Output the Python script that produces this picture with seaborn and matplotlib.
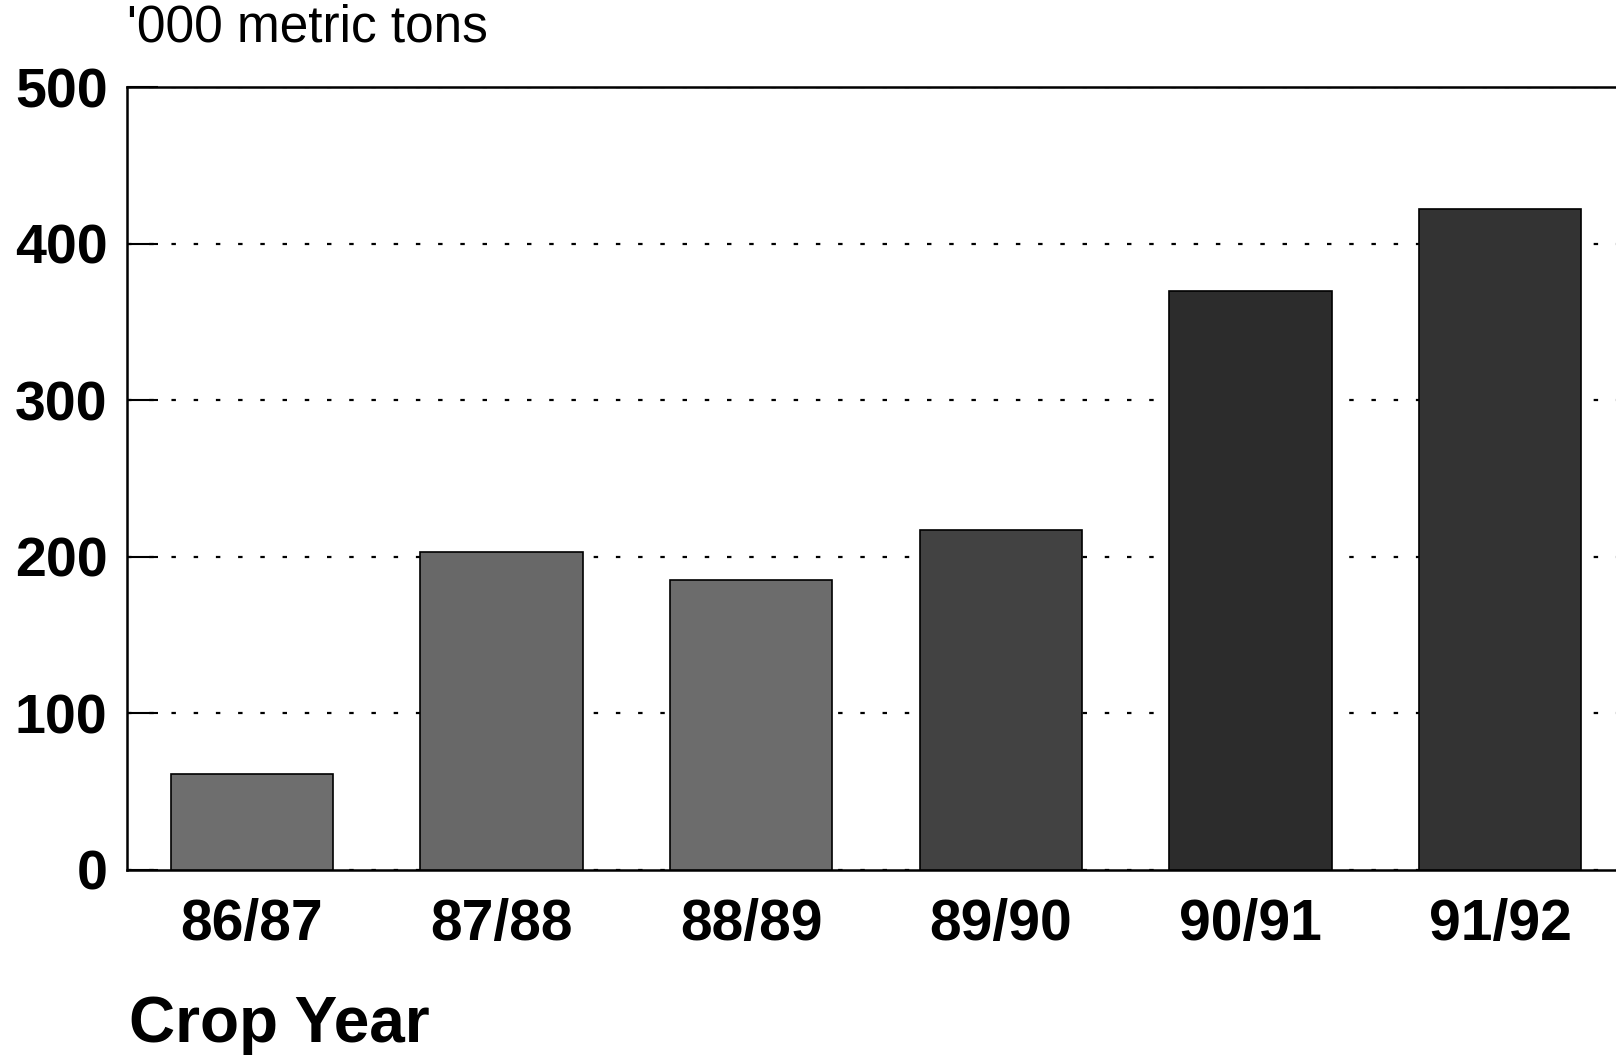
import matplotlib
matplotlib.use("Agg")
import matplotlib.pyplot as plt
import seaborn as sns

# crop years and volume ('000 metric tons)
years = ["86/87", "87/88", "88/89", "89/90", "90/91", "91/92"]
volume = [61, 203, 185, 217, 370, 422]
bar_colors = ["#6e6e6e", "#686868", "#6c6c6c", "#424242", "#2c2c2c", "#333333"]
y_ticks = [0, 100, 200, 300, 400, 500]

sns.set_style("white")
plt.rcParams['font.family'] = ['Liberation Sans', 'DejaVu Sans']
plt.rcParams['text.color'] = 'black'
plt.rcParams['xtick.color'] = 'black'
plt.rcParams['ytick.color'] = 'black'

fig = plt.figure(figsize=(16.16, 10.55), dpi=100)
ax = fig.add_axes([0.0786, 0.1754, 0.927, 0.742])

sns.barplot(x=years, y=volume, hue=years, palette=bar_colors, legend=False,
            width=0.65, saturation=1, edgecolor="black", linewidth=1.2, ax=ax,
            zorder=3)

ax.set_xlim(-0.5, 5.5)
ax.set_ylim(0, 500)
ax.set_yticks(y_ticks)
ax.set_yticklabels([str(t) for t in y_ticks], fontsize=40, fontweight="bold")
ax.set_xticks(range(len(years)))
ax.set_xticklabels(years, fontsize=41, fontweight="bold")

ax.yaxis.grid(True, linestyle=(0, (2, 8)), color="black", linewidth=1.6, zorder=1)
ax.set_axisbelow(True)

ax.tick_params(axis="y", direction="in", length=22, width=1.5, pad=14, left=True)
ax.tick_params(axis="x", length=0, pad=20)

for side in ["left", "top", "bottom"]:
    ax.spines[side].set_linewidth(1.8)
    ax.spines[side].set_color("black")
ax.spines["right"].set_visible(False)

ax.set_xlabel("")
ax.set_ylabel("")

fig.text(0.0786, 0.961, "'000 metric tons", fontsize=37, ha="left", va="baseline")
fig.text(0.08, 0.012, "Crop Year", fontsize=46, fontweight="bold", ha="left", va="baseline")

fig.savefig("out.png", dpi=100, facecolor="white")
